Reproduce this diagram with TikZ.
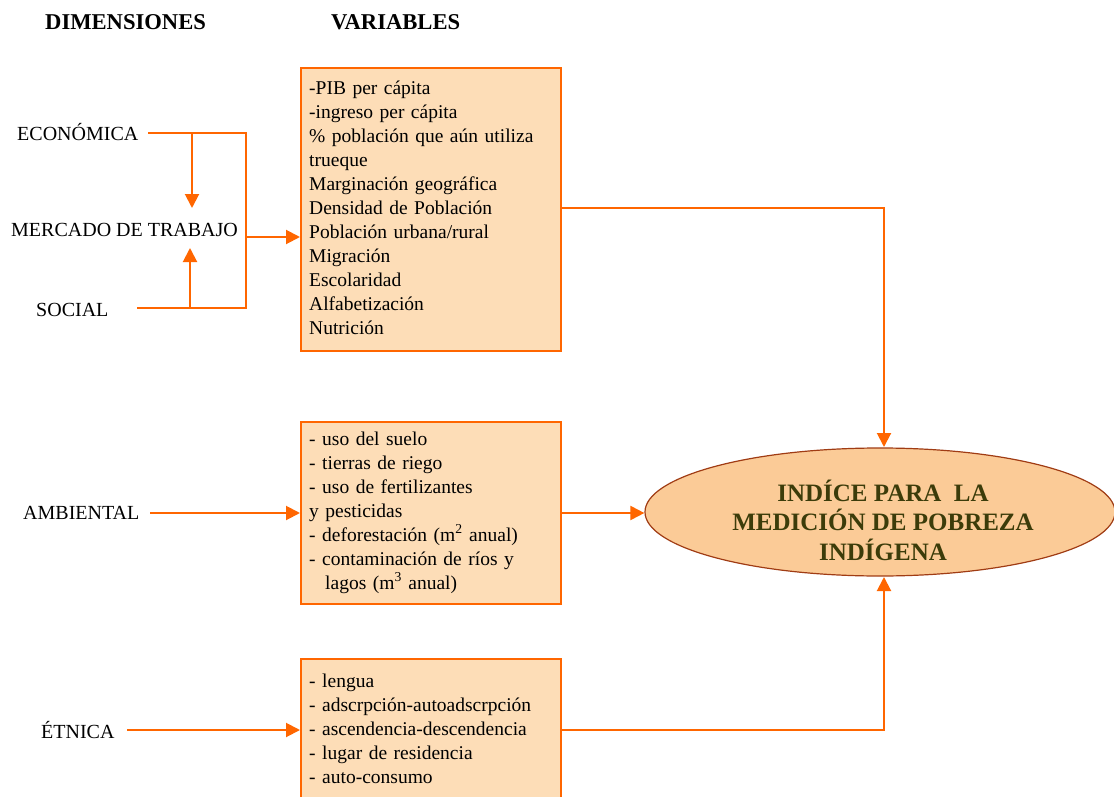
\documentclass[tikz,border=0pt]{standalone}
\usepackage{fontspec}
\setmainfont{Liberation Serif}
\usetikzlibrary{arrows.meta,shapes.geometric}
\definecolor{ln}{RGB}{255,102,0}
\definecolor{boxfill}{RGB}{253,221,183}
\definecolor{ellfill}{RGB}{251,203,151}
\definecolor{ellline}{RGB}{160,60,20}
\definecolor{elltext}{RGB}{60,60,10}
\begin{document}
\begin{tikzpicture}[x=1pt,y=-1pt,
 conn/.style={draw=ln, line width=2pt},
 arr/.style={conn, -{Triangle[length=14pt,width=14pt]}},
 vbox/.style={draw=ln, line width=2pt, fill=boxfill, rectangle, anchor=north west, inner sep=0},
 dimlab/.style={anchor=base west, inner sep=0, font=\fontsize{20}{24}\selectfont},
 vtext/.style={anchor=base west, inner sep=0, text width=250pt, align=left, font=\fontsize{19.5}{24}\selectfont},
 hdr/.style={anchor=base west, inner sep=0, font=\fontsize{22.6}{26}\selectfont\bfseries}]
\useasboundingbox (0,0) rectangle (1114,797);

% headers
\node[hdr] (hdim) at (45,30) {DIMENSIONES};
\node[hdr] (hvar) at (331,30) {VARIABLES};

% dimension labels
\node[dimlab] (econ) at (17,141) {ECONÓMICA};
\node[dimlab] (merc) at (11,236) {MERCADO DE TRABAJO};
\node[dimlab] (soc) at (36,316) {SOCIAL};
\node[dimlab] (amb) at (23,519) {AMBIENTAL};
\node[dimlab] (etn) at (41,738) {ÉTNICA};

% variable boxes
\node[vbox, minimum width=260pt, minimum height=283pt] (box1) at (300,67) {};
\node[vtext] (t1) at (309,95) {-PIB per cápita\\
-ingreso per cápita\\
\% población que aún utiliza\\
trueque\\
Marginación geográfica\\
Densidad de Población\\
Población urbana/rural\\
Migración\\
Escolaridad\\
Alfabetización\\
Nutrición};

\node[vbox, minimum width=260pt, minimum height=182pt] (box2) at (300,421) {};
\node[vtext] (t2) at (309,445) {- uso del suelo\\
- tierras de riego\\
- uso de fertilizantes\\
y pesticidas\\
- deforestación (m\textsuperscript{2} anual)\\
- contaminación de ríos y\\
\hspace*{16pt}lagos (m\textsuperscript{3} anual)};

\node[vbox, minimum width=260pt, minimum height=170pt] (box3) at (300,658) {};
\node[vtext] (t3) at (309,687) {- lengua\\
- adscrpción-autoadscrpción\\
- ascendencia-descendencia\\
- lugar de residencia\\
- auto-consumo};

% index ellipse
\node[ellipse, draw=ellline, fill=ellfill, line width=1.2pt, minimum width=470pt, minimum height=128pt, inner sep=0] (idx) at (880,512) {};
\node[align=center, inner sep=0, text=elltext, font=\fontsize{25}{29.5}\selectfont\bfseries] (idxt) at (883,520) {INDÍCE PARA~~LA\\MEDICIÓN DE POBREZA\\INDÍGENA};

% coordinates for connectors
\coordinate (ecoS) at (148,133);
\coordinate (ecoJ) at (246,133);
\coordinate (socS) at (137,308);
\coordinate (socJ) at (246,308);
\coordinate (ecoD) at (192,133);
\coordinate (ecoT) at (192,208);
\coordinate (socU) at (190,308);
\coordinate (socT) at (190,248);
\coordinate (mJ) at (246,237);
\coordinate (ambS) at (150,513);
\coordinate (etnS) at (127,730);
\coordinate (b1o) at (561,208);
\coordinate (b2o) at (561,513);
\coordinate (b3o) at (561,730);
\coordinate (idxTop) at (884,447);
\coordinate (idxBot) at (884,577);

\draw[conn] (ecoS) -- (ecoJ) -- (socJ) -- (socS);
\draw[arr] (ecoD) -- (ecoT);
\draw[arr] (socU) -- (socT);
\draw[arr] (mJ) -- (mJ -| box1.west);
\draw[arr] (ambS) -- (ambS -| box2.west);
\draw[arr] (etnS) -- (etnS -| box3.west);
\draw[arr] (b1o) -| (idxTop);
\draw[arr] (b2o) -- (b2o -| idx.west);
\draw[arr] (b3o) -| (idxBot);
\end{tikzpicture}
\end{document}
